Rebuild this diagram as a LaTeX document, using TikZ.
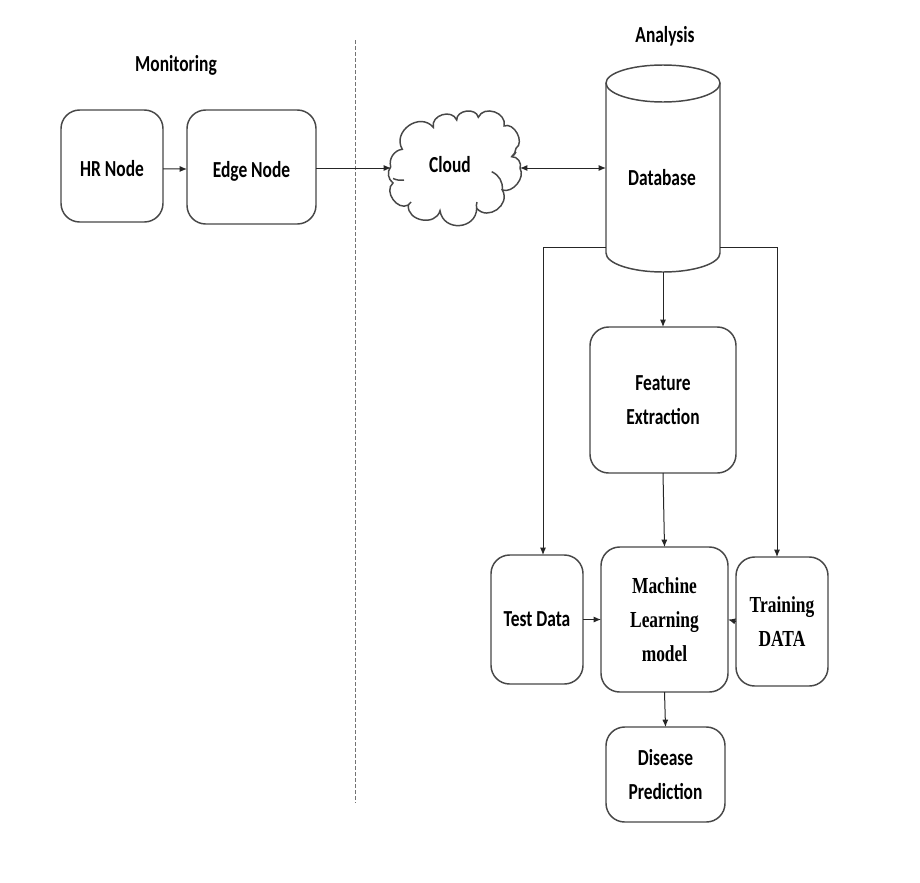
\documentclass[tikz,border=0pt]{standalone}
\usepackage{fontspec}
\setmainfont{Carlito}[FakeStretch=0.76]
\newfontfamily\serifb{Liberation Serif}[FakeStretch=0.76]
\usetikzlibrary{arrows.meta,calc}
\newcommand{\lowered}[1]{\raisebox{-7.5pt}[0pt][0pt]{#1}}
\tikzset{
  x=0.75pt,y=-0.75pt,
  box/.style={draw=black!72,line width=1.1pt,rounded corners=14pt,align=center,inner sep=0pt,outer sep=0pt,
    font=\fontsize{17.2}{25.5}\selectfont\bfseries,fill=white},
  sbox/.style={box,font=\fontsize{17.2}{25.5}\selectfont\serifb\bfseries},
  lbl/.style={align=center,inner sep=0pt,font=\fontsize{17.2}{25.5}\selectfont\bfseries},
  anchorbox/.style={inner sep=0pt,outer sep=0pt},
  shapeline/.style={draw=black!72,line width=1.1pt,fill=white},
  inner stroke/.style={draw=black!72,line width=1.1pt},
  puff/.style={bend left=85,looseness=#1},
  conn/.style={draw=black!85,line width=0.75pt,-{Latex[length=5.5pt,width=4.5pt]}},
  biconn/.style={draw=black!85,line width=0.75pt,{Latex[length=5.5pt,width=4.5pt]}-{Latex[length=5.5pt,width=4.5pt]}},
  sep/.style={draw=black!55,line width=0.5pt,dash pattern=on 3pt off 1.5pt}
}
\begin{document}
\begin{tikzpicture}
\useasboundingbox (0,0) rectangle (920,882);
\fill[white] (0,0) rectangle (920,882);
% separator
\coordinate (septop) at (355,40);
\coordinate (sepbot) at (355,803);
\draw[sep] (septop) -- (sepbot);
% headings
\node[lbl] (monitoring) at (176,65) {Monitoring};
\node[lbl] (analysis) at (665,36) {Analysis};
% boxes
\node[box,minimum width=76.5pt,minimum height=84pt] (hr) at (112,166) {\lowered{HR Node}};
\node[box,minimum width=96.75pt,minimum height=85.5pt] (edge) at (251.5,167) {\lowered{Edge Node}};
\node[box,minimum width=109.5pt,minimum height=109.5pt] (feature) at (663,400) {Feature\\Extraction};
\node[box,minimum width=69pt,minimum height=96.75pt] (test) at (537,619.5) {Test Data};
\node[sbox,minimum width=95.25pt,minimum height=108.75pt] (ml) at (664.5,619.5) {Machine\\Learning\\model};
\node[sbox,minimum width=69pt,minimum height=96.75pt] (train) at (782,621.5) {Training\\DATA};
\node[box,minimum width=89.25pt,minimum height=71.25pt] (disease) at (665.5,774.5) {Disease\\Prediction};
% cloud
\path[shapeline]
  (390.7,166.7) to[bend left=50] (402.3,149.3)
  to[puff=1.4] (433.3,127.3)
  to[puff=1.3] (456.7,120)
  to[puff=1.2] (478.3,117.3)
  to[puff=1.3] (504,126)
  to[puff=1.1] (516,148.3)
  to[bend left=20] (511.7,156.7)
  to[bend left=60] (520,168.3)
  to[bend left=70] (502.3,190)
  to[puff=1.4] (476.7,208.3)
  to[puff=1.5] (440,210.7)
  to[puff=1.3] (408.3,205)
  to[puff=1.2] (393,183)
  to[bend left=45] (390.7,166.7) -- cycle;
\draw[inner stroke] (491.7,171.7) to[bend left=35] (502.3,190);
\draw[inner stroke] (393,178.5) to[bend right=15] (404,180);
\draw[inner stroke] (511.7,156.7) to[bend right=15] (516,152);
\draw[inner stroke] (476.7,208.3) to[bend left=15] (477,202);
\draw[inner stroke] (408.3,205) to[bend left=15] (411,202);
\node[anchorbox,minimum width=96.75pt,minimum height=60pt] (cloud) at (455.5,168) {};
\node[lbl] (cloudtext) at (450,165) {Cloud};
% database
\path[shapeline] (606,83) -- (606,253) arc[start angle=180,end angle=0,x radius=57,y radius=19]
  -- (720,83) arc[start angle=0,end angle=-180,x radius=57,y radius=18] -- cycle;
\draw[inner stroke] (606,83) arc[start angle=180,end angle=0,x radius=57,y radius=19];
\node[anchorbox,minimum width=85.5pt,minimum height=155.25pt] (db) at (663,168.5) {};
\node[lbl] (dbtext) at (662,178) {Database};
% connectors
\draw[conn] ([yshift=-2.2pt]hr.east) -- ([yshift=-1.5pt]edge.west);
\draw[conn] ([yshift=0pt]edge.east |- cloud.west) -- (cloud.west);
\draw[biconn] (cloud.east) -- (cloud.east -| db.west);
\draw[conn] ($(db.west)+(0,-59.25pt)$) -| ($(test.north)+(4.5pt,0)$);
\draw[conn] ($(db.east)+(0,-59.25pt)$) -| ($(train.north)+(-3.75pt,0)$);
\draw[conn] (db.south) -- (feature.north);
\draw[conn] (feature.south) -- (ml.north);
\draw[conn] (test.east) -- (ml.west);
\draw[conn] (train.west) -- (ml.east);
\draw[conn] (ml.south) -- (disease.north);
\end{tikzpicture}
\end{document}
